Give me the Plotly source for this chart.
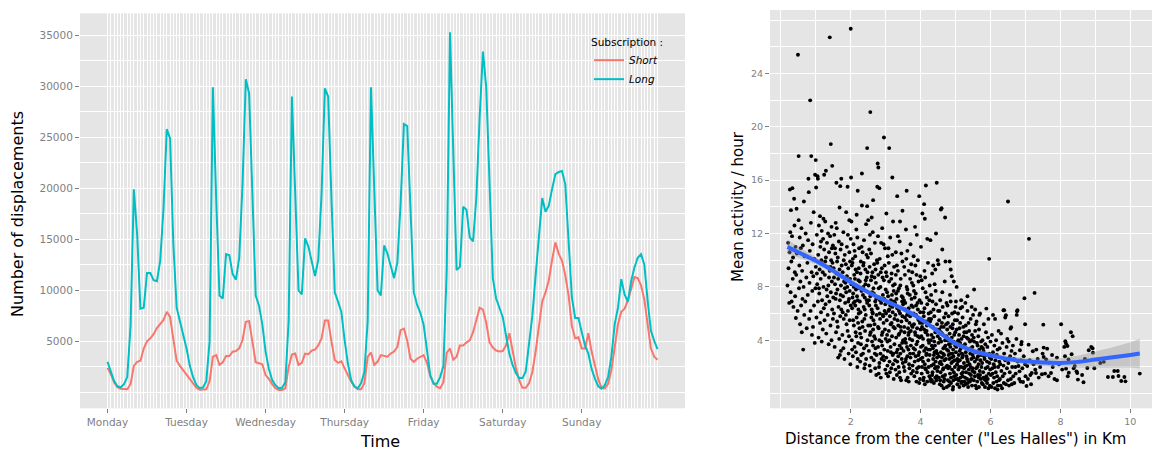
import plotly.graph_objects as go

# ---------------- Left panel data (hourly, Monday 0h -> Sunday 23h) ----------------
hours = list(range(168))
day_labels = ["Monday", "Tuesday", "Wednesday", "Thursday", "Friday", "Saturday", "Sunday"]
day_ticks = [0, 24, 48, 72, 96, 120, 144]

short_subs = [
    2400, 1800, 1000, 500, 350, 300, 300, 800, 2600, 3000, 3100, 4300, 5000, 5300, 5700, 6300, 6700, 7100, 7900, 7400, 5200, 3100, 2600, 2150,
    1700, 1300, 900, 450, 250, 250, 300, 1100, 3500, 3660, 2700, 2950, 3560, 3560, 3990, 4050, 4320, 5130, 6920, 6990, 5000, 2950, 2850, 2750,
    1700, 1320, 800, 400, 240, 240, 400, 2500, 3700, 3800, 2700, 2900, 3800, 3750, 4100, 4200, 4600, 5300, 7050, 7050, 5000, 3170, 2900, 3050,
    2350, 1700, 1050, 570, 310, 310, 900, 3500, 3900, 2700, 3000, 3650, 3600, 3500, 3800, 4000, 4450, 6100, 6250, 5100, 3300, 3000, 3300, 3500,
    3650, 2900, 1600, 900, 550, 400, 1000, 3900, 4300, 3200, 3500, 4600, 4600, 4900, 5100, 5900, 7000, 8300, 8100, 6800, 4900, 4400, 4100, 4000,
    4050, 4600, 5800, 4000, 2400, 1200, 450, 450, 900, 2000, 4000, 6500, 8900, 9800, 11000, 13000, 14700, 13600, 12900, 11500, 9500, 6500, 5300, 5400,
    4300, 4300, 5800, 4000, 2600, 1300, 450, 400, 850, 2200, 4400, 6700, 7900, 8200, 9000, 10300, 11300, 11200, 10500, 9100, 6500, 4300, 3500, 3200,
]

long_subs = [
    3000, 2000, 1100, 600, 500, 800, 1500, 6500, 19900, 15500, 8200, 8300, 11700, 11700, 11000, 10900, 12900, 18000, 25800, 24900, 14500, 8300, 7000, 5800,
    4300, 2600, 1500, 700, 430, 480, 1100, 5000, 29900, 19000, 9500, 9200, 13550, 13450, 11600, 11050, 13200, 20400, 30700, 29300, 19000, 9500, 8500, 6700,
    4000, 2300, 1200, 700, 400, 450, 1000, 7000, 29000, 19000, 10000, 9600, 15100, 14300, 13000, 11400, 13000, 19500, 29800, 29000, 19000, 9800, 8900, 7900,
    5100, 2800, 1200, 570, 410, 900, 2000, 7000, 29900, 20000, 10000, 9500, 14400, 13600, 12500, 11200, 12700, 18500, 26300, 26100, 18000, 9800, 8600, 7800,
    6600, 3900, 1700, 850, 850, 1500, 2600, 12000, 35300, 23500, 12000, 12300, 18200, 17900, 15200, 14800, 19100, 27000, 33400, 29900, 20000, 11200, 9200, 8200,
    7400, 5600, 3800, 2700, 1900, 1400, 1400, 2050, 4500, 7500, 11500, 15500, 19050, 17700, 18300, 19950, 21400, 21600, 21700, 20400, 14800, 9300, 7300, 7300,
    5900, 4600, 3800, 2300, 1350, 600, 370, 700, 1500, 3500, 6700, 8300, 11100, 9600, 8900, 10900, 12250, 13200, 13550, 12550, 9000, 6050, 5050, 4250,
]

left_y_ticks = [5000, 10000, 15000, 20000, 25000, 30000, 35000]
left_y_labels = ["5000", "10000", "15000", "20000", "25000", "30000", "35000"]
left_y_minor = [0, 2500, 7500, 12500, 17500, 22500, 27500, 32500]

# ---------------- Right panel data (one point per station) ----------------
distance_km = [
    0.19,0.21,0.22,0.24,0.25,0.26,0.27,0.28,0.29,0.30,0.31,0.32,0.33,0.34,0.35,0.36,0.38,0.39,0.40,0.41,0.42,0.43,0.44,0.45,0.46,0.48,
    0.49,0.51,0.51,0.52,0.53,0.54,0.55,0.56,0.57,0.58,0.59,0.60,0.61,0.62,0.63,0.64,0.65,0.66,0.67,0.68,0.70,0.71,0.73,0.74,
    0.76,0.77,0.78,0.79,0.80,0.81,0.82,0.83,0.84,0.85,0.86,0.87,0.88,0.89,0.90,0.91,0.92,0.93,0.94,0.95,0.96,0.97,0.98,0.99,1.00,1.00,
    1.01,1.02,1.03,1.04,1.05,1.06,1.06,1.07,1.08,1.09,1.10,1.11,1.12,1.12,1.13,1.14,1.15,1.16,1.17,1.17,1.18,1.19,1.20,1.21,1.22,1.22,1.23,1.24,1.24,1.25,1.03,1.09,1.15,1.20,
    1.26,1.27,1.28,1.29,1.29,1.30,1.31,1.32,1.33,1.34,1.35,1.36,1.37,1.38,1.39,1.40,1.40,1.41,1.42,1.43,1.43,1.44,1.45,1.45,1.46,1.47,1.47,1.48,1.49,1.50,1.27,1.33,1.38,1.42,1.46,1.49,
    1.51,1.52,1.53,1.54,1.55,1.56,1.57,1.58,1.59,1.59,1.60,1.61,1.62,1.63,1.64,1.64,1.65,1.66,1.67,1.68,1.68,1.69,1.70,1.70,1.71,1.72,1.72,1.73,1.73,1.74,1.52,1.55,1.58,1.61,1.63,1.66,1.69,1.71,1.74,1.57,
    1.76,1.77,1.78,1.79,1.80,1.81,1.82,1.83,1.84,1.85,1.86,1.87,1.87,1.88,1.89,1.90,1.91,1.91,1.92,1.93,1.94,1.95,1.96,1.96,1.97,1.98,1.99,2.00,2.00,2.00,1.77,1.80,1.83,1.86,1.89,1.92,1.95,1.98,1.79,1.85,1.93,1.97,
    2.01,2.02,2.02,2.03,2.04,2.05,2.06,2.07,2.08,2.09,2.10,2.11,2.12,2.13,2.14,2.15,2.16,2.17,2.17,2.18,2.19,2.20,2.20,2.21,2.22,2.23,2.24,2.25,2.03,2.05,2.07,2.09,2.11,2.13,2.15,2.18,2.21,2.23,2.04,2.08,2.12,2.16,2.19,2.22,2.24,2.06,2.14,2.20,
    2.26,2.27,2.28,2.29,2.30,2.31,2.32,2.32,2.33,2.34,2.35,2.36,2.37,2.38,2.39,2.40,2.41,2.42,2.43,2.44,2.45,2.46,2.47,2.47,2.47,2.48,2.49,2.50,2.50,2.26,2.28,2.30,2.32,2.34,2.36,2.38,2.40,2.42,2.44,2.46,2.48,2.27,2.31,2.35,2.39,2.43,2.45,2.29,2.37,2.41,
    2.51,2.52,2.53,2.54,2.55,2.56,2.56,2.57,2.58,2.59,2.60,2.61,2.62,2.63,2.64,2.64,2.65,2.66,2.67,2.68,2.69,2.70,2.71,2.72,2.73,2.74,2.75,2.52,2.54,2.56,2.58,2.60,2.62,2.64,2.66,2.68,2.70,2.72,2.74,2.53,2.57,2.61,2.65,2.69,2.73,2.55,2.59,2.63,2.67,2.71,2.60,2.70,
    2.76,2.77,2.77,2.78,2.79,2.79,2.80,2.81,2.82,2.82,2.83,2.84,2.85,2.86,2.87,2.88,2.89,2.90,2.91,2.92,2.93,2.94,2.95,2.95,2.96,2.97,2.98,2.99,3.00,3.00,2.76,2.78,2.80,2.81,2.83,2.85,2.87,2.89,2.91,2.93,2.95,2.97,2.99,2.78,2.84,2.88,2.92,2.96,2.80,2.86,2.90,2.94,2.98,2.82,
    3.01,3.02,3.02,3.03,3.04,3.05,3.06,3.07,3.08,3.09,3.10,3.10,3.11,3.12,3.13,3.14,3.15,3.16,3.17,3.18,3.19,3.19,3.20,3.21,3.21,3.22,3.23,3.24,3.25,3.01,3.03,3.05,3.07,3.09,3.11,3.13,3.15,3.17,3.19,3.21,3.23,3.25,3.04,3.08,3.12,3.16,3.20,3.24,3.06,3.14,3.18,3.22,3.10,3.02,
    3.26,3.27,3.28,3.29,3.30,3.31,3.32,3.33,3.33,3.34,3.35,3.36,3.37,3.38,3.39,3.40,3.41,3.41,3.42,3.43,3.44,3.45,3.46,3.47,3.48,3.48,3.49,3.50,3.26,3.28,3.30,3.32,3.34,3.36,3.38,3.40,3.42,3.44,3.46,3.48,3.50,3.27,3.31,3.35,3.39,3.43,3.47,3.29,3.37,3.45,3.33,3.41,3.49,3.35,3.45,
    3.51,3.52,3.53,3.54,3.55,3.56,3.57,3.58,3.59,3.60,3.60,3.61,3.62,3.63,3.64,3.65,3.66,3.67,3.68,3.69,3.70,3.71,3.72,3.73,3.74,3.75,3.52,3.54,3.56,3.58,3.60,3.62,3.64,3.66,3.68,3.70,3.72,3.74,3.53,3.57,3.61,3.65,3.69,3.73,3.55,3.59,3.63,3.67,3.71,3.75,3.58,3.66,3.70,3.62,3.54,
    3.76,3.77,3.78,3.79,3.80,3.81,3.82,3.83,3.84,3.85,3.86,3.87,3.88,3.89,3.90,3.91,3.92,3.93,3.94,3.95,3.96,3.96,3.97,3.98,3.99,4.00,3.77,3.79,3.81,3.83,3.85,3.87,3.89,3.91,3.93,3.95,3.97,3.99,3.78,3.82,3.86,3.90,3.94,3.98,3.80,3.84,3.88,3.92,3.96,3.76,3.84,3.92,4.00,3.88,3.80,
    4.01,4.02,4.03,4.04,4.05,4.05,4.06,4.07,4.08,4.09,4.10,4.10,4.11,4.12,4.12,4.13,4.14,4.15,4.15,4.16,4.17,4.18,4.19,4.20,4.21,4.22,4.23,4.24,4.25,4.02,4.04,4.06,4.08,4.10,4.12,4.14,4.16,4.18,4.20,4.22,4.24,4.03,4.07,4.11,4.15,4.19,4.23,4.01,4.09,4.17,4.25,4.13,4.21,4.05,4.19,
    4.26,4.27,4.28,4.29,4.30,4.31,4.32,4.33,4.34,4.35,4.36,4.37,4.38,4.39,4.40,4.41,4.42,4.43,4.44,4.45,4.46,4.46,4.47,4.48,4.49,4.50,4.27,4.29,4.31,4.33,4.35,4.37,4.39,4.41,4.43,4.45,4.47,4.49,4.26,4.30,4.34,4.38,4.42,4.46,4.50,4.28,4.36,4.44,4.32,4.40,4.48,4.36,4.44,4.30,4.42,
    4.51,4.52,4.53,4.54,4.55,4.56,4.57,4.58,4.58,4.59,4.60,4.60,4.61,4.62,4.63,4.64,4.65,4.66,4.67,4.68,4.69,4.70,4.70,4.71,4.72,4.73,4.74,4.75,4.52,4.54,4.56,4.58,4.60,4.62,4.64,4.66,4.68,4.70,4.72,4.74,4.51,4.55,4.59,4.63,4.67,4.71,4.75,4.53,4.57,4.61,4.65,4.69,4.73,4.62,4.66,
    4.76,4.77,4.78,4.79,4.80,4.81,4.82,4.83,4.83,4.84,4.85,4.86,4.87,4.88,4.89,4.89,4.90,4.91,4.92,4.93,4.94,4.95,4.95,4.96,4.97,4.98,4.99,5.00,4.77,4.79,4.81,4.83,4.85,4.87,4.89,4.91,4.93,4.95,4.97,4.99,4.76,4.80,4.84,4.88,4.92,4.96,5.00,4.78,4.82,4.86,4.90,4.94,4.98,4.86,4.92,
    5.01,5.02,5.03,5.04,5.05,5.06,5.07,5.08,5.09,5.10,5.11,5.12,5.13,5.14,5.15,5.16,5.16,5.17,5.18,5.19,5.20,5.21,5.22,5.23,5.24,5.25,5.02,5.04,5.06,5.08,5.10,5.12,5.14,5.16,5.18,5.20,5.22,5.24,5.01,5.05,5.09,5.13,5.17,5.21,5.25,5.03,5.11,5.19,5.07,5.23,
    5.26,5.27,5.28,5.29,5.30,5.31,5.32,5.33,5.34,5.35,5.36,5.37,5.38,5.39,5.40,5.41,5.42,5.43,5.44,5.45,5.46,5.47,5.48,5.49,5.50,5.27,5.29,5.31,5.33,5.35,5.37,5.39,5.41,5.43,5.45,5.47,5.49,5.28,5.32,5.36,5.40,5.44,5.48,5.34,5.46,
    5.51,5.52,5.53,5.53,5.54,5.55,5.56,5.57,5.58,5.59,5.60,5.61,5.62,5.63,5.64,5.65,5.66,5.67,5.68,5.69,5.70,5.71,5.72,5.73,5.74,5.75,5.52,5.55,5.58,5.61,5.64,5.67,5.70,5.73,5.56,5.62,5.68,5.74,5.60,5.66,
    5.76,5.77,5.78,5.79,5.80,5.81,5.82,5.83,5.84,5.85,5.86,5.87,5.88,5.88,5.89,5.90,5.91,5.92,5.93,5.94,5.95,5.96,5.96,5.97,5.98,5.99,6.00,5.78,5.82,5.86,5.90,5.94,5.98,5.80,5.92,
    6.01,6.02,6.03,6.04,6.05,6.07,6.07,6.08,6.09,6.10,6.11,6.13,6.13,6.14,6.15,6.16,6.17,6.18,6.19,6.20,6.21,6.22,6.23,6.24,6.25,6.06,6.12,6.20,
    6.26,6.27,6.28,6.29,6.30,6.31,6.32,6.33,6.34,6.35,6.37,6.37,6.38,6.39,6.39,6.40,6.42,6.42,6.44,6.44,6.46,6.47,6.48,6.50,6.50,
    6.51,6.52,6.53,6.55,6.56,6.57,6.58,6.59,6.60,6.61,6.62,6.64,6.65,6.67,6.68,6.70,6.71,6.72,6.74,6.75,6.76,6.77,6.78,
    6.80,6.82,6.83,6.84,6.86,6.87,6.88,6.89,6.91,6.93,6.95,6.97,6.99,6.99,7.00,
    7.03,7.05,7.07,7.09,7.10,7.12,7.14,7.16,7.18,7.21,7.23,7.26,7.28,7.30,7.31,7.35,7.38,7.42,7.47,7.49,
    7.51,7.52,7.52,7.56,7.59,7.62,7.66,7.68,7.73,7.76,7.78,7.83,7.90,7.90,7.96,
    8.02,8.05,8.11,8.13,8.14,8.16,8.16,8.20,8.21,8.23,8.24,8.30,8.32,8.35,8.38,8.41,8.46,8.48,8.50,
    8.55,8.62,8.66,8.70,8.77,8.81,8.88,8.92,8.93,8.97,
    9.14,9.24,9.36,9.50,9.54,9.64,9.66,9.74,9.83,9.86,10.27,
]

mean_activity = [
    8.1,11.3,9.4,6.8,10.6,15.3,12.1,7.6,13.75,9.9,6.9,11.8,15.4,8.6,10.2,6.5,14.6,12.6,9.1,7.3,11.0,5.67,8.9,13.85,10.5,6.2,
    25.4,17.8,13.0,7.9,9.6,11.7,5.2,8.4,10.9,6.6,12.4,4.6,9.2,7.1,11.1,3.3,8.0,14.4,5.9,10.3,6.9,12.0,8.7,4.9,
    9.8,7.4,11.5,16.1,15.1,5.6,8.3,10.7,21.98,6.2,12.8,17.8,9.1,4.4,7.7,11.2,5.0,8.8,13.6,6.6,10.1,3.8,16.4,7.9,17.5,9.5,
    15.45,5.7,11.9,8.2,16.3,16.1,6.9,10.4,4.2,12.6,7.5,9.3,13.3,5.3,11.0,8.6,6.1,10.0,3.9,12.2,7.0,9.7,4.8,11.6,13.1,8.0,6.4,16.4,10.8,5.5,9.0,7.9,11.4,9.1,
    8.9,12.9,6.7,16.7,10.2,4.5,7.8,11.3,9.5,5.9,12.0,8.1,3.7,10.6,6.9,26.7,9.2,11.8,5.1,18.7,7.6,10.0,12.5,4.0,8.4,17.07,6.3,9.8,11.1,7.2,9.9,7.3,8.7,9.5,10.9,5.6,
    9.4,6.0,11.9,3.5,8.2,10.5,7.1,4.6,15.8,9.0,12.4,5.4,7.8,10.2,2.7,8.6,6.5,11.4,4.1,13.95,9.3,7.0,15.55,5.8,10.8,3.2,8.1,16.1,6.3,11.2,8.7,10.9,7.5,9.9,5.0,8.9,2.9,7.4,9.6,12.8,
    4.4,9.1,7.3,12.1,5.6,8.4,2.6,10.4,6.8,3.9,9.7,13.6,7.6,5.2,11.0,8.0,15.5,4.7,6.2,9.4,3.0,7.1,13.0,10.6,5.5,8.6,2.2,27.35,6.6,11.6,6.1,10.0,7.9,5.9,8.8,11.9,4.3,9.9,3.4,8.3,6.9,7.7,
    16.2,12.9,8.2,4.0,6.4,9.8,2.8,7.5,11.2,5.1,8.9,3.5,6.9,10.3,4.6,7.8,12.3,13.4,5.7,9.1,2.0,15.2,7.0,3.8,8.5,6.0,10.9,4.9,9.6,7.2,5.5,8.0,10.7,6.6,3.1,7.3,5.3,9.4,3.3,6.8,8.6,4.3,11.7,6.3,7.9,10.1,9.3,2.6,
    8.4,2.4,6.1,9.9,4.2,7.7,16.5,14.1,5.4,10.6,3.0,8.0,6.5,11.5,1.9,7.2,4.7,9.3,5.9,12.7,3.6,8.7,18.4,14.05,6.8,4.0,10.2,13.0,5.1,6.9,9.0,2.9,7.9,5.0,9.6,3.4,6.3,8.2,2.6,7.0,9.1,4.5,11.0,7.4,5.6,8.5,10.4,3.7,9.8,2.2,
    8.1,3.2,6.6,9.5,4.4,21.1,7.3,1.7,10.5,5.7,8.8,3.9,6.1,12.1,14.5,4.8,7.9,2.5,9.7,5.2,11.3,6.9,3.4,8.3,1.4,5.9,10.0,7.0,2.1,5.1,8.5,6.3,9.1,3.6,7.5,8.7,4.1,6.6,2.9,10.8,4.6,7.6,5.5,3.0,7.1,11.9,2.7,6.0,4.3,9.3,13.2,1.9,
    15.5,17.25,6.4,3.5,16.95,8.9,4.9,7.2,15.4,2.3,10.1,5.6,8.0,1.2,6.8,3.9,9.4,12.4,4.6,7.4,2.8,5.3,19.2,8.5,3.3,6.2,10.9,1.8,7.8,4.1,9.8,5.0,7.9,2.0,6.0,3.0,11.3,4.4,8.7,5.8,2.5,9.6,6.7,11.8,7.0,2.6,5.9,7.1,1.5,9.1,3.6,11.2,4.8,4.0,
    9.1,13.5,2.7,5.5,7.6,3.9,10.3,1.3,6.2,4.7,18.4,8.4,2.4,5.8,11.7,3.5,7.0,1.9,9.0,4.3,16.2,6.5,2.9,12.9,8.1,5.0,1.1,6.9,3.7,6.0,8.8,2.1,7.3,9.8,4.0,6.6,3.1,5.3,10.4,2.2,7.7,5.6,4.4,10.9,1.6,8.6,6.1,9.5,3.2,5.2,7.4,3.0,6.3,1.5,
    8.2,2.5,5.9,10.6,4.2,7.1,1.4,14.8,6.4,3.3,9.2,5.1,2.0,7.9,4.5,11.4,12.9,6.0,3.0,8.6,1.0,5.4,7.3,3.8,13.7,9.9,2.3,6.7,4.9,1.8,7.5,9.6,5.5,2.8,6.2,3.6,8.1,4.7,2.6,5.8,4.0,6.8,3.1,7.7,1.6,5.0,6.9,8.9,4.4,10.5,2.4,1.2,7.2,11.8,3.4,
    3.2,7.0,5.0,1.7,8.9,4.1,6.3,2.6,10.1,15.2,5.5,3.5,7.8,1.2,6.0,4.4,9.2,2.2,5.3,7.4,3.0,11.2,4.7,1.5,6.6,8.3,2.0,4.6,6.8,3.8,8.0,2.8,4.9,6.4,1.9,5.8,3.6,7.1,9.5,2.4,5.9,3.3,4.1,9.7,5.7,1.0,7.5,4.6,2.7,5.1,12.3,0.9,8.6,10.7,3.9,
    4.0,2.1,6.5,8.1,3.4,5.2,1.3,7.2,4.6,9.6,2.8,5.9,3.7,11.9,1.9,6.8,4.3,2.5,8.4,5.5,14.8,3.1,7.0,1.1,6.1,4.8,5.0,3.0,7.7,2.4,4.4,6.6,1.6,3.9,5.6,2.0,4.2,8.8,1.7,5.9,7.5,4.9,2.9,5.3,10.3,3.3,8.9,6.3,0.8,9.1,12.5,10.0,2.6,0.9,6.0,
    3.5,6.8,1.5,5.0,13.5,2.7,7.9,4.1,1.0,5.8,14.2,3.2,6.4,13.1,2.2,8.7,4.6,15.6,1.8,5.4,3.0,7.2,0.9,4.4,9.8,2.5,6.0,3.8,1.3,4.3,2.0,3.6,6.1,4.8,0.7,7.6,2.9,5.1,1.6,4.0,5.6,8.5,2.4,9.2,3.4,6.7,2.0,11.0,1.2,4.7,7.0,1.9,3.3,5.3,11.6,
    2.9,5.4,1.1,4.0,7.4,2.1,3.6,9.0,1.6,5.0,2.6,6.3,0.8,3.9,8.2,1.9,4.6,2.4,6.7,3.2,15.8,1.3,5.2,3.0,10.0,2.0,3.3,6.1,4.4,1.4,3.4,2.2,5.8,3.6,7.7,1.0,2.7,4.3,8.1,0.9,6.9,2.9,1.2,4.8,6.2,11.5,4.2,2.0,1.0,3.1,1.7,9.6,12.0,5.6,9.3,
    3.8,1.2,5.5,2.3,4.1,7.0,1.6,13.8,3.1,5.0,13.9,0.6,2.7,4.5,6.5,1.8,3.4,0.9,5.7,2.5,8.4,13.2,1.4,3.6,6.0,2.0,4.3,0.5,2.8,6.2,1.0,4.6,2.2,7.6,3.0,5.0,1.1,4.0,2.6,6.8,9.7,0.7,3.9,1.3,2.9,9.9,3.3,4.8,2.4,5.3,1.9,3.5,5.2,10.8,0.4,
    2.1,4.0,1.0,3.2,5.8,0.6,2.6,9.9,4.5,1.5,3.5,6.9,0.8,2.3,8.8,4.2,1.8,3.0,5.2,0.5,2.8,8.4,3.9,1.3,6.1,2.0,4.6,1.1,6.6,1.9,3.7,2.0,5.0,1.2,2.7,4.9,3.3,1.6,2.5,3.6,4.8,2.9,7.4,3.8,2.4,4.4,6.5,5.3,0.9,3.0,6.0,1.0,5.5,9.3,0.3,
    3.1,1.4,4.8,2.2,0.7,3.9,6.0,1.8,2.9,4.4,0.5,2.5,5.3,1.2,3.4,7.0,2.0,4.1,0.9,2.7,5.7,1.6,3.6,0.6,2.3,4.6,3.5,5.5,1.1,4.0,2.0,3.2,6.4,0.8,3.0,1.3,5.0,1.9,6.9,2.6,1.0,3.8,1.5,2.9,0.9,8.0,4.9,6.5,2.4,4.3,
    2.0,3.7,0.7,5.1,1.6,2.8,4.2,1.1,6.2,2.4,0.5,3.3,1.8,4.7,2.2,0.9,3.0,5.6,1.4,2.6,4.0,0.6,3.5,1.9,5.9,1.2,3.1,4.6,2.6,0.8,5.3,1.5,3.9,2.0,1.1,4.4,2.9,6.8,2.1,4.1,1.0,3.4,1.7,7.3,6.5,
    2.7,1.0,7.8,3.9,1.6,2.4,4.7,0.6,3.1,1.9,5.4,2.6,0.9,3.6,1.4,4.3,2.2,0.5,3.3,1.7,6.0,2.5,1.1,3.9,2.0,0.8,4.2,1.3,5.2,3.8,2.8,4.8,1.4,2.9,6.3,2.0,5.9,3.5,0.4,1.2,
    2.3,4.0,0.7,1.6,3.2,5.2,1.1,2.6,0.5,3.7,1.9,4.6,6.37,1.3,2.9,0.8,3.5,2.0,4.2,0.4,1.5,10.1,3.0,2.3,0.6,1.8,3.9,3.4,2.8,1.0,2.4,5.6,2.7,1.2,1.1,
    1.4,2.6,0.5,4.4,1.9,5.9,3.1,0.8,2.2,1.2,3.6,5.6,0.4,2.5,1.6,4.0,0.9,2.9,1.3,3.3,0.6,2.0,4.7,1.0,2.4,1.5,2.0,0.3,
    3.4,1.1,2.2,0.6,4.5,1.7,2.7,0.4,3.8,1.3,6.25,2.1,0.8,6.25,3.0,1.5,5.7,2.5,5.87,0.7,3.5,1.9,4.1,1.0,14.4,
    2.3,3.9,0.6,1.6,2.8,4.87,1.1,4.97,3.2,0.7,2.0,3.6,1.3,2.6,0.8,3.0,2.0,1.5,4.1,5.9,6.17,6.25,2.4,
    2.07,1.1,1.67,3.25,0.9,2.5,3.7,3.88,1.9,0.87,2.8,7.15,2.2,5.2,1.3,
    0.57,2.07,1.1,3.67,11.6,2.5,1.4,0.7,1.55,3.17,2.2,7.55,1.8,1.55,3.3,2.6,1.2,2.0,1.45,3.0,
    5.17,3.45,2.75,1.5,2.57,3.37,1.3,2.32,1.55,2.9,2.0,1.1,2.7,1.0,2.2,
    5.2,1.8,3.5,2.8,3.92,3.75,1.87,3.57,1.3,2.56,1.57,4.6,2.95,4.3,1.9,2.07,1.67,1.55,1.05,
    2.4,1.4,0.85,2.6,1.92,3.25,3.5,3.4,3.07,1.9,
    2.3,2.38,1.25,1.25,1.7,1.7,1.32,0.95,1.25,0.92,1.5,
]

# loess smooth (fit, lower and upper confidence band)
smooth_x = [0.19, 0.5, 1.0, 1.5, 2.0, 2.5, 3.0, 3.5, 4.0, 4.5, 5.0, 5.5, 6.0, 6.5, 7.0, 7.5, 8.0, 8.5, 9.0, 9.5, 10.0, 10.27]
smooth_y = [11.0, 10.6, 9.95, 9.2, 8.35, 7.6, 6.95, 6.35, 5.6, 4.65, 3.75, 3.2, 2.87, 2.6, 2.42, 2.33, 2.3, 2.38, 2.55, 2.72, 2.9, 3.0]
smooth_lo = [10.45, 10.2, 9.67, 8.98, 8.15, 7.4, 6.75, 6.15, 5.4, 4.45, 3.55, 3.0, 2.67, 2.4, 2.17, 2.03, 1.95, 1.93, 1.95, 1.97, 1.95, 1.88]
smooth_hi = [11.55, 11.0, 10.23, 9.42, 8.55, 7.8, 7.15, 6.55, 5.8, 4.85, 3.95, 3.4, 3.07, 2.8, 2.67, 2.63, 2.65, 2.83, 3.15, 3.47, 3.85, 4.12]

right_x_ticks = [2, 4, 6, 8, 10]
right_x_minor = [0, 1, 3, 5, 7, 9]
right_y_ticks = [4, 8, 12, 16, 20, 24]
right_y_minor = [0, 2, 6, 10, 14, 18, 22, 26, 28]

# ---------------- Figure ----------------
W, H = 1154, 450
FONT = "DejaVu Sans"
GRID = "#FFFFFF"
TICKC = "#7F7F7F"
PANEL = "#E5E5E5"

fig = go.Figure()

fig.add_trace(go.Scatter(x=hours, y=short_subs, mode="lines", name="Short",
                         line=dict(color="#F8766D", width=2), xaxis="x", yaxis="y"))
fig.add_trace(go.Scatter(x=hours, y=long_subs, mode="lines", name="Long",
                         line=dict(color="#00BFC4", width=2), xaxis="x", yaxis="y"))

n = min(len(distance_km), len(mean_activity))
fig.add_trace(go.Scatter(x=distance_km[:n], y=mean_activity[:n], mode="markers",
                         marker=dict(color="black", size=3.9, line=dict(width=0)),
                         showlegend=False, xaxis="x2", yaxis="y2"))
fig.add_trace(go.Scatter(x=smooth_x, y=smooth_hi, mode="lines", line=dict(width=0),
                         showlegend=False, xaxis="x2", yaxis="y2", hoverinfo="skip"))
fig.add_trace(go.Scatter(x=smooth_x, y=smooth_lo, mode="lines", line=dict(width=0),
                         fill="tonexty", fillcolor="rgba(153,153,153,0.4)",
                         showlegend=False, xaxis="x2", yaxis="y2", hoverinfo="skip"))
fig.add_trace(go.Scatter(x=smooth_x, y=smooth_y, mode="lines", line=dict(color="#3366FF", width=4, shape="spline"),
                         showlegend=False, xaxis="x2", yaxis="y2"))

def px_x(p):
    return p / W

def px_y(p):
    return 1 - p / H

common = dict(showline=False, zeroline=False, ticks="outside", ticklen=4, tickwidth=1,
              tickcolor=TICKC, gridcolor=GRID, automargin=False, showgrid=True)

fig.update_layout(
    width=W, height=H,
    margin=dict(l=0, r=0, t=0, b=0),
    paper_bgcolor="white",
    plot_bgcolor=PANEL,
    font=dict(family=FONT, color="black"),
    xaxis=dict(domain=[px_x(80), px_x(685)], range=[-8.35, 175.35], anchor="y",
               tickmode="array", tickvals=day_ticks, ticktext=day_labels,
               tickfont=dict(size=10.5, color=TICKC), gridwidth=1.1,
               minor=dict(tickmode="array", tickvals=hours, showgrid=True, gridcolor=GRID,
                          gridwidth=1.1, ticks=""),
               **common),
    yaxis=dict(domain=[px_y(408.3), px_y(13.3)], range=[-1560, 37160], anchor="x",
               tickmode="array", tickvals=left_y_ticks, ticktext=left_y_labels,
               tickfont=dict(size=10.5, color=TICKC), gridwidth=1.3,
               minor=dict(tickmode="array", tickvals=left_y_minor, showgrid=True, gridcolor=GRID,
                          gridwidth=0.6, ticks=""),
               **common),
    xaxis2=dict(domain=[px_x(770), px_x(1152)], range=[-0.31, 10.62], anchor="y2",
                tickmode="array", tickvals=right_x_ticks, ticktext=[str(v) for v in right_x_ticks],
                tickfont=dict(size=9.5, color=TICKC), gridwidth=1.3,
                minor=dict(tickmode="array", tickvals=right_x_minor, showgrid=True, gridcolor=GRID,
                           gridwidth=0.6, ticks=""),
                **common),
    yaxis2=dict(domain=[px_y(408.3), px_y(10)], range=[-1.1, 28.75], anchor="x2",
                tickmode="array", tickvals=right_y_ticks, ticktext=[str(v) for v in right_y_ticks],
                tickfont=dict(size=9.5, color=TICKC), gridwidth=1.3,
                minor=dict(tickmode="array", tickvals=right_y_minor, showgrid=True, gridcolor=GRID,
                           gridwidth=0.6, ticks=""),
                **common),
    legend=dict(x=px_x(589), y=px_y(32), xanchor="left", yanchor="top",
                bgcolor="rgba(0,0,0,0)", borderwidth=0, traceorder="normal",
                font=dict(family=FONT, size=10.5, color="black", style="italic"),
                title=dict(text="Subscription :", font=dict(family=FONT, size=10.5, color="black", style="normal")),
                itemwidth=30, tracegroupgap=0),
    showlegend=True,
    annotations=[
        dict(text="Number of displacements", x=px_x(18), y=px_y(214), xref="paper", yref="paper",
             textangle=-90, showarrow=False, font=dict(size=16, color="black"), xanchor="center", yanchor="middle"),
        dict(text="Time", x=px_x(380), y=px_y(441), xref="paper", yref="paper",
             showarrow=False, font=dict(size=16, color="black"), xanchor="center", yanchor="middle"),
        dict(text="Mean activity / hour", x=px_x(738), y=px_y(207), xref="paper", yref="paper",
             textangle=-90, showarrow=False, font=dict(size=15, color="black"), xanchor="center", yanchor="middle"),
        dict(text="Distance from the center (\"Les Halles\") in Km", x=px_x(955), y=px_y(439), xref="paper", yref="paper",
             showarrow=False, font=dict(size=15, color="black"), xanchor="center", yanchor="middle"),
    ],
)

fig.write_html("out.html", config={"displayModeBar": False},
               post_script="document.body.style.margin='0px';document.body.style.overflow='hidden';")
